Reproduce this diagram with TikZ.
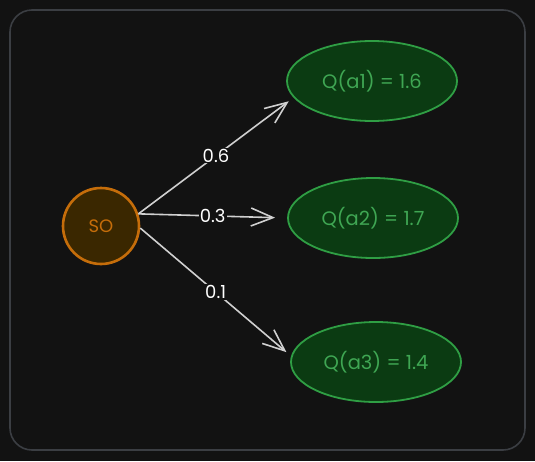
\documentclass[tikz,border=0pt]{standalone}
\usepackage{fontspec}
\setmainfont{Poppins}
\usetikzlibrary{arrows.meta, shapes.geometric}

\definecolor{bgc}{HTML}{121212}
\definecolor{framec}{HTML}{3B3E43}
\definecolor{startfill}{HTML}{3A2700}
\definecolor{startline}{HTML}{C56D0A}
\definecolor{qfill}{HTML}{0B3B12}
\definecolor{qline}{HTML}{2F9E44}
\definecolor{qtext}{HTML}{3FA653}
\definecolor{edgec}{HTML}{D0D0D0}

\begin{document}
\begin{tikzpicture}[
            x = 1pt, y = -1pt, % pixel grid, y down
            > = {Straight Barb[length=22pt, width=18pt]}, % arrow head style
            shorten > = 6pt, % don't touch arrow head to node
            line width = 1.6pt
        ]

        \tikzstyle{start state}=[
            circle,
            draw = startline,
            line width = 2.6pt,
            fill = startfill,
            text = startline,
            minimum size = 76pt,
            inner sep = 0pt,
            font = \fontsize{18}{21}\selectfont
        ]
        \tikzstyle{q state}=[
            ellipse,
            draw = qline,
            line width = 1.8pt,
            fill = qfill,
            text = qtext,
            minimum width = 170pt,
            minimum height = 80pt,
            inner sep = 0pt,
            font = \fontsize{19.5}{23}\selectfont
        ]
        \tikzstyle{prob}=[
            fill = bgc,
            text = white,
            inner sep = 1pt,
            font = \fontsize{18}{21}\selectfont
        ]

        % background and frame
        \fill[bgc] (0,0) rectangle (535,461);
        \useasboundingbox (0,0) rectangle (535,461);
        \draw[framec, rounded corners = 22pt] (10,10) rectangle (525,450);

        \node[start state] (s0) at (101,226) {SO};
        \node[q state] (qa1) at (372,81) {Q(a1) = 1.6};
        \node[q state] (qa2) at (373,218) {Q(a2) = 1.7};
        \node[q state] (qa3) at (376,362) {Q(a3) = 1.4};

        \draw[->, edgec] (s0.18) -- node[prob] {0.6} (qa1.192);
        \draw[->, edgec, shorten > = 12pt] (s0.18) -- node[prob] {0.3} (qa2.west);
        \draw[->, edgec] (s0.-3) -- node[prob] {0.1} (qa3.176);
    \end{tikzpicture}
\end{document}
